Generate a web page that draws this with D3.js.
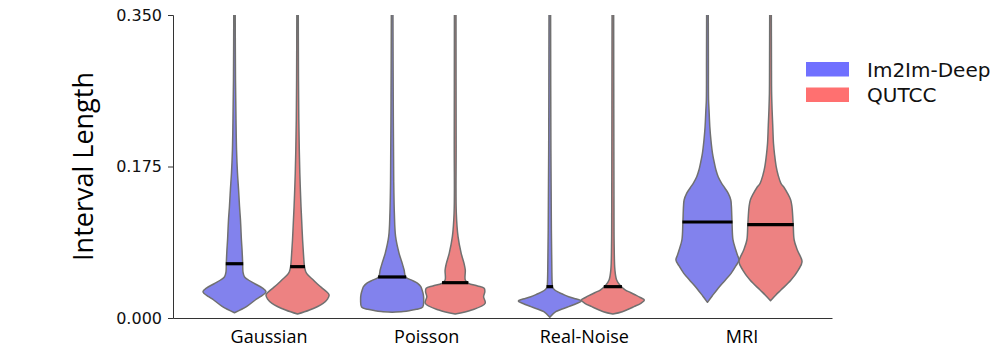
<!DOCTYPE html>
<html>
<head>
<meta charset="utf-8">
<script src="https://cdn.jsdelivr.net/npm/d3@7"></script>
<style>
  body { margin: 0; background: #fff; }
  svg { display: block; }
</style>
</head>
<body>
<div id="chart"></div>
<script>
var categories = ["Gaussian", "Poisson", "Real-Noise", "MRI"];
var methods = ["Im2Im-Deep", "QUTCC"];
var yTickValues = [0, 0.175, 0.35];

var medianIm2Im = [0.0627, 0.0474, 0.0362, 0.1109];
var medianQUTCC = [0.0593, 0.0408, 0.0362, 0.1078];

// violin outlines: [interval length, relative width]
var gaussianIm2Im = [[0.0061, 0], [0.0131, 0.38], [0.0208, 0.66], [0.0246, 0.82], [0.0304, 1.0],
  [0.0347, 0.88], [0.0393, 0.66], [0.0439, 0.44], [0.0474, 0.32], [0.0531, 0.27], [0.0627, 0.26],
  [0.0785, 0.24], [0.0901, 0.22], [0.1132, 0.19], [0.1286, 0.16], [0.1479, 0.13], [0.1675, 0.095],
  [0.1941, 0.065], [0.2287, 0.048], [0.2749, 0.032], [0.36, 0.022]];
var gaussianQUTCC = [[0.0046, 0], [0.0092, 0.38], [0.0170, 0.81], [0.0219, 0.95], [0.0266, 1.0],
  [0.0304, 0.92], [0.0343, 0.79], [0.0393, 0.63], [0.0439, 0.50], [0.0497, 0.33], [0.0535, 0.26],
  [0.0593, 0.22], [0.0728, 0.19], [0.0901, 0.16], [0.1132, 0.13], [0.1286, 0.11], [0.1479, 0.09],
  [0.1675, 0.072], [0.1941, 0.055], [0.2287, 0.04], [0.2749, 0.03], [0.36, 0.022]];
var poissonIm2Im = [[0.0066, 0], [0.0075, 0.35], [0.0084, 0.54], [0.0100, 0.77], [0.0127, 0.97],
  [0.0208, 1.0], [0.0266, 0.99], [0.0323, 0.95], [0.0362, 0.91], [0.0404, 0.80], [0.0432, 0.65],
  [0.0474, 0.43], [0.0554, 0.38], [0.0631, 0.32], [0.0747, 0.22], [0.0939, 0.11], [0.1213, 0.07],
  [0.1594, 0.05], [0.2518, 0.035], [0.36, 0.025]];
var poissonQUTCC = [[0.0046, 0], [0.0092, 0.52], [0.0170, 0.95], [0.0246, 0.9], [0.0304, 0.94],
  [0.0343, 0.92], [0.0370, 0.71], [0.0401, 0.42], [0.0439, 0.32], [0.0554, 0.32], [0.0631, 0.28],
  [0.0747, 0.19], [0.0939, 0.09], [0.1213, 0.035], [0.2, 0.03], [0.36, 0.025]];
var noiseIm2Im = [[0.0008, 0], [0.0073, 0.19], [0.0131, 0.6], [0.0168, 0.85], [0.0196, 1.0],
  [0.0219, 0.85], [0.0246, 0.6], [0.0277, 0.4], [0.0304, 0.24], [0.0329, 0.14], [0.0355, 0.09],
  [0.0404, 0.075], [0.0554, 0.065], [0.1016, 0.05], [0.194, 0.035], [0.36, 0.025]];
var noiseQUTCC = [[0.0046, 0], [0.0073, 0.3], [0.0131, 0.67], [0.0173, 0.9], [0.0208, 1.0],
  [0.0237, 0.87], [0.0266, 0.72], [0.0295, 0.56], [0.0323, 0.4], [0.0352, 0.3], [0.0381, 0.22],
  [0.0439, 0.12], [0.0554, 0.065], [0.0824, 0.042], [0.136, 0.035], [0.36, 0.025]];
var mriIm2Im = [[0.0181, 0], [0.0254, 0.15], [0.0362, 0.38], [0.0439, 0.57], [0.0516, 0.75],
  [0.0601, 0.9], [0.0670, 1.0], [0.0728, 0.95], [0.0785, 0.9], [0.0901, 0.81], [0.1094, 0.78],
  [0.1286, 0.76], [0.1363, 0.74], [0.1440, 0.66], [0.1502, 0.55], [0.1556, 0.45], [0.1632, 0.34],
  [0.1709, 0.27], [0.1825, 0.2], [0.1902, 0.16], [0.2056, 0.11], [0.2210, 0.075], [0.2403, 0.05],
  [0.2518, 0.035], [0.298, 0.03], [0.36, 0.025]];
var mriQUTCC = [[0.0200, 0], [0.0266, 0.17], [0.0323, 0.33], [0.0439, 0.65], [0.0554, 0.88],
  [0.0650, 1.0], [0.0785, 0.85], [0.0901, 0.75], [0.1078, 0.72], [0.1286, 0.68], [0.1363, 0.64],
  [0.1440, 0.54], [0.1502, 0.44], [0.1556, 0.33], [0.1652, 0.24], [0.1748, 0.18], [0.1883, 0.13],
  [0.2018, 0.094], [0.2229, 0.07], [0.2403, 0.05], [0.2595, 0.035], [0.298, 0.03], [0.36, 0.025]];

var profiles = {
  "Im2Im-Deep": [gaussianIm2Im, poissonIm2Im, noiseIm2Im, mriIm2Im],
  "QUTCC": [gaussianQUTCC, poissonQUTCC, noiseQUTCC, mriQUTCC]
};
var medians = { "Im2Im-Deep": medianIm2Im, "QUTCC": medianQUTCC };

var width = 1000, height = 362;
var margin = { top: 15, right: 168, bottom: 44, left: 173 };

var fillCol = { "Im2Im-Deep": "#8282ed", "QUTCC": "#ed8282" },
    legendCol = { "Im2Im-Deep": "#7070ff", "QUTCC": "#ff7070" },
    edgeCol = "#707070";

var svg = d3.select("#chart").append("svg")
  .attr("width", width)
  .attr("height", height);

var x = d3.scaleBand()
  .domain(categories)
  .range([margin.left, width - margin.right])
  .paddingInner(0)
  .paddingOuter(0.09);

var xSub = d3.scaleBand()
  .domain(methods)
  .range([0, x.bandwidth()])
  .paddingOuter(0.25);

var y = d3.scaleLinear()
  .domain([0, 0.35])
  .range([height - margin.bottom, margin.top]);

var w = d3.scaleLinear()
  .domain([0, 1])
  .range([0, xSub.bandwidth() / 2]);

svg.append("clipPath").attr("id", "plot-clip")
  .append("rect")
  .attr("x", margin.left)
  .attr("y", margin.top)
  .attr("width", width - margin.left - margin.right)
  .attr("height", height - margin.top - margin.bottom);

var plot = svg.append("g").attr("clip-path", "url(#plot-clip)");

methods.forEach(function(m) {
  categories.forEach(function(c, i) {
    var cx = x(c) + xSub(m) + xSub.bandwidth() / 2;
    var prof = profiles[m][i];

    var area = d3.area()
      .y(function(d) { return y(d[0]); })
      .x0(function(d) { return cx - w(d[1]); })
      .x1(function(d) { return cx + w(d[1]); })
      .curve(d3.curveCatmullRom.alpha(0.5));

    plot.append("path")
      .datum(prof)
      .attr("d", area)
      .attr("fill", fillCol[m])
      .attr("stroke", edgeCol)
      .attr("stroke-width", 1.5)
      .attr("stroke-linejoin", "round");

    // median bar across the violin
    var widthAt = d3.scaleLinear()
      .domain(prof.map(function(d) { return d[0]; }))
      .range(prof.map(function(d) { return d[1]; }));
    var med = medians[m][i];
    var half = w(widthAt(med)) + 0.5;
    plot.append("line")
      .attr("x1", cx - half)
      .attr("x2", cx + half)
      .attr("y1", y(med))
      .attr("y2", y(med))
      .attr("stroke", "black")
      .attr("stroke-width", 3.2);
  });
});

// axes
var yAxis = svg.append("g")
  .attr("transform", "translate(" + margin.left + ",0)")
  .call(d3.axisLeft(y).tickValues(yTickValues).tickFormat(d3.format(".3f")).tickSize(5).tickPadding(6));
yAxis.selectAll("text")
  .style("font-family", "DejaVu Sans")
  .style("font-size", "16px")
  .attr("fill", "#111");

var xAxis = svg.append("g")
  .attr("transform", "translate(0," + (height - margin.bottom) + ")")
  .call(d3.axisBottom(x).tickSize(0).tickPadding(12));
xAxis.selectAll("text")
  .attr("dx", 3)
  .style("font-family", "Open Sans")
  .style("font-size", "18px")
  .style("font-weight", 500)
  .attr("fill", "#000");

svg.selectAll(".domain").attr("stroke", "#333");
svg.selectAll(".tick line").attr("stroke", "#333");

svg.append("text")
  .attr("transform", "translate(93," + (margin.top + height - margin.bottom) / 2 + ") rotate(-90)")
  .attr("text-anchor", "middle")
  .style("font-family", "Open Sans")
  .style("font-size", "27px")
  .style("font-weight", 500)
  .attr("fill", "#000")
  .text("Interval Length");

// legend
var legend = svg.append("g").attr("transform", "translate(806,62)");
methods.forEach(function(m, i) {
  var row = legend.append("g").attr("transform", "translate(0," + (i * 25.5) + ")");
  row.append("rect")
    .attr("width", 43)
    .attr("height", 14.5)
    .attr("fill", legendCol[m]);
  row.append("text")
    .attr("x", 61)
    .attr("y", 14.7)
    .style("font-family", "DejaVu Sans")
    .style("font-size", "20px")
    .attr("fill", "#111")
    .text(m);
});
</script>
</body>
</html>
